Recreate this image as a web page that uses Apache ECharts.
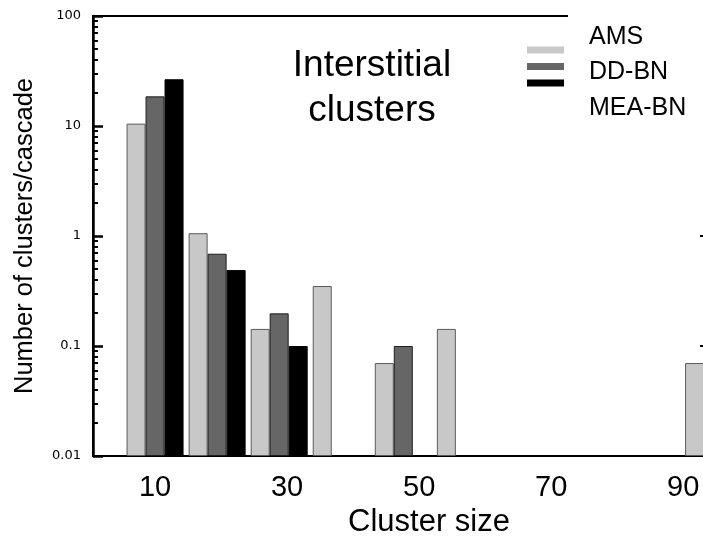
<!DOCTYPE html>
<html>
<head>
<meta charset="utf-8">
<script src="https://cdn.jsdelivr.net/npm/echarts@6/dist/echarts.min.js"></script>
<style>
  html, body { margin: 0; padding: 0; background: #fff; }
  #chart { width: 703px; height: 544px; }
</style>
</head>
<body>
<div id="chart"></div>
<script>
// Bin centres (cluster size) and number of clusters per cascade for each potential
const clusterSize = [10, 19.4, 28.8, 38.2, 47.6, 57.0, 66.4, 75.8, 85.2, 94.6];
const amsValues   = [10.5, 1.06, 0.143, 0.351, 0.070, 0.143, null, null, null, 0.070];
const ddbnValues  = [18.6, 0.69, 0.198, null, 0.100, null, null, null, null, null];
const meabnValues = [26.6, 0.49, 0.100, null, null, null, null, null, null, null];
const seriesNames = ['AMS', 'DD-BN', 'MEA-BN'];
const xTickLabels = [10, 30, 50, 70, 90];
const yTickLabels = [0.01, 0.1, 1, 10, 100];

// minor log ticks (2..9 within each decade), expressed in log10 space
const minorTicks = [];
for (let k = -2; k < 2; k++) {
  for (let m = 2; m <= 9; m++) minorTicks.push(Math.log10(m) + k);
}

function pairs(values) {
  return clusterSize.map((x, i) => [x, values[i] == null ? '-' : values[i]]);
}

const FONT = 'Liberation Sans';
const chart = echarts.init(document.getElementById('chart'), null, { renderer: 'canvas' });

const barBase = { type: 'bar', barWidth: 19, barGap: '0%', xAxisIndex: 0, yAxisIndex: 0 };

chart.setOption({
  animation: false,
  backgroundColor: '#fff',
  textStyle: { fontFamily: FONT },
  grid: {
    left: 93, top: 16, width: 612, height: 440,
    outerBoundsMode: 'none', containLabel: false,
    show: true, borderWidth: 2, borderColor: '#000', backgroundColor: 'transparent'
  },
  title: {
    text: 'Interstitial\nclusters',
    left: 372, top: 43, padding: 0, textAlign: 'center',
    textStyle: { fontFamily: FONT, fontSize: 37, fontWeight: 'normal', color: '#000', lineHeight: 45, align: 'center' }
  },
  legend: [
    {
      // series names (white box also masks the frame behind it)
      data: seriesNames, orient: 'vertical', left: 568, top: 0,
      padding: [23.5, 40, 15, 15], backgroundColor: '#fff',
      itemWidth: 0, itemHeight: 25, itemGap: 8.5, itemStyle: { opacity: 0 },
      selectedMode: false,
      textStyle: { fontFamily: FONT, fontSize: 25, color: '#000', lineHeight: 25 }, z: 4
    },
    {
      // colour swatches
      data: seriesNames, orient: 'vertical', left: 527, top: 46.5, padding: 0,
      icon: 'rect', itemWidth: 37, itemHeight: 7, itemGap: 9.5, itemStyle: { borderWidth: 0 },
      selectedMode: false, formatter: () => '', textStyle: { fontSize: 1, lineHeight: 1 }, z: 5
    }
  ],
  xAxis: [{
    type: 'value', min: 0.6, max: 93.3,
    name: 'Cluster size', nameLocation: 'middle', nameGap: 51,
    nameTextStyle: { fontFamily: FONT, fontSize: 31, color: '#000', padding: [0, 0, 0, 60] },
    axisLine: { show: true, onZero: false, lineStyle: { color: '#000', width: 2 } },
    axisTick: { show: false }, splitLine: { show: false },
    axisLabel: { customValues: xTickLabels, margin: 17, fontFamily: FONT, fontSize: 29, color: '#000' }
  }],
  yAxis: [
    {
      type: 'log', logBase: 10, min: 0.01, max: 100, startValue: 0.01, position: 'left',
      name: 'Number of clusters/cascade', nameLocation: 'middle', nameGap: 55, nameRotate: 90,
      nameTextStyle: { fontFamily: FONT, fontSize: 25.5, color: '#000' },
      axisLine: { show: true, onZero: false, lineStyle: { color: '#000', width: 2.5 } },
      axisTick: { show: true, inside: true, length: 10, lineStyle: { color: '#000', width: 2.5 } },
      minorTick: { show: false },
      splitLine: { show: false },
      axisLabel: {
        margin: 12, fontFamily: 'DejaVu Sans', fontSize: 13, color: '#000',
        formatter: v => {
          const hit = yTickLabels.find(t => Math.abs(Math.log10(t) - Math.log10(v)) < 1e-6);
          return String(hit != null ? hit : +v.toPrecision(3));
        }
      }
    },
    {
      // minor ticks of the left axis, in log10 space
      type: 'value', min: -2, max: 2, position: 'left',
      axisLine: { show: false, onZero: false },
      axisTick: { show: true, inside: true, length: 5, customValues: minorTicks, lineStyle: { color: '#000', width: 2 } },
      axisLabel: { show: false }, splitLine: { show: false }
    },
    {
      // right frame with inward major ticks
      type: 'log', logBase: 10, min: 0.01, max: 100, position: 'right',
      axisLine: { show: true, onZero: false, lineStyle: { color: '#000', width: 2.5 } },
      axisTick: { show: true, inside: true, length: 5, lineStyle: { color: '#000', width: 2 } },
      axisLabel: { show: false }, splitLine: { show: false }
    }
  ],
  series: [
    Object.assign({}, barBase, { name: seriesNames[0], data: pairs(amsValues),
      itemStyle: { color: '#c8c8c8', borderColor: '#5a5a5a', borderWidth: 1 } }),
    Object.assign({}, barBase, { name: seriesNames[1], data: pairs(ddbnValues),
      itemStyle: { color: '#666666', borderColor: '#1e1e1e', borderWidth: 1 } }),
    Object.assign({}, barBase, { name: seriesNames[2], data: pairs(meabnValues),
      itemStyle: { color: '#000000', borderColor: '#000000', borderWidth: 1 } })
  ]
});
</script>
</body>
</html>
